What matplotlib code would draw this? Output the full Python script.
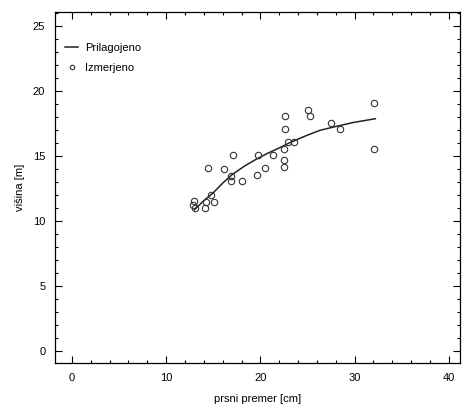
import matplotlib
matplotlib.use("Agg")
import matplotlib.pyplot as plt
from matplotlib.ticker import MultipleLocator

plt.rcParams["font.family"] = ["Liberation Sans", "DejaVu Sans"]

# measured trees: breast-height diameter [cm] vs height [m]
diameter = [12.9, 13.0, 13.1, 14.1, 14.2, 14.4, 14.8, 15.1, 16.1, 16.9, 16.9,
            17.1, 18.0, 19.6, 19.7, 20.5, 21.3, 22.5, 22.5, 22.5, 22.6, 22.6,
            22.9, 23.6, 25.1, 25.3, 27.5, 28.4, 32.1, 32.1]
height = [11.3, 11.6, 11.0, 11.0, 11.5, 14.1, 12.0, 11.5, 14.0, 13.5, 13.1,
          15.1, 13.1, 13.6, 15.1, 14.1, 15.1, 15.6, 14.7, 14.2, 18.1, 17.1,
          16.1, 16.1, 18.6, 18.1, 17.6, 17.1, 19.1, 15.6]

# fitted height curve
fit_d = [13.0, 14.0, 15.0, 16.0, 17.0, 18.3, 19.6, 20.8, 22.0, 23.1, 24.7,
         26.3, 28.0, 29.8, 32.2]
fit_h = [10.9, 11.6, 12.2, 12.95, 13.6, 14.25, 14.8, 15.25, 15.65, 16.05,
         16.55, 17.0, 17.3, 17.6, 17.9]

fig = plt.figure(figsize=(4.62, 4.16), dpi=100)
ax = fig.add_axes([0.119, 0.127, 0.877, 0.844])

ax.plot(fit_d, fit_h, color="#222222", lw=1.1, label="Prilagojeno")
ax.plot(diameter, height, linestyle="none", marker="o", markersize=4.6,
        markerfacecolor="none", markeredgecolor="#333333", markeredgewidth=0.8,
        label="Izmerjeno")

ax.set_xlim(-1.8, 41.2)
ax.set_ylim(-0.9, 26.1)
ax.xaxis.set_major_locator(MultipleLocator(10))
ax.xaxis.set_minor_locator(MultipleLocator(2))
ax.yaxis.set_major_locator(MultipleLocator(5))
ax.yaxis.set_minor_locator(MultipleLocator(1))
ax.tick_params(which="both", direction="in", top=True, right=True,
               labelsize=8, width=0.8, pad=7)
ax.tick_params(which="major", length=5)
ax.tick_params(which="minor", length=2.5)
for s in ax.spines.values():
    s.set_linewidth(0.9)

ax.set_xlabel("prsni premer [cm]", fontsize=8, labelpad=8)
ax.set_ylabel("višina [m]", fontsize=8, labelpad=6)

leg = ax.legend(loc="upper left", bbox_to_anchor=(0.0, 0.94), frameon=False,
                fontsize=8, handlelength=1.2, handletextpad=0.6,
                labelspacing=0.9, markerscale=0.7)

fig.savefig("out.png", dpi=100)
